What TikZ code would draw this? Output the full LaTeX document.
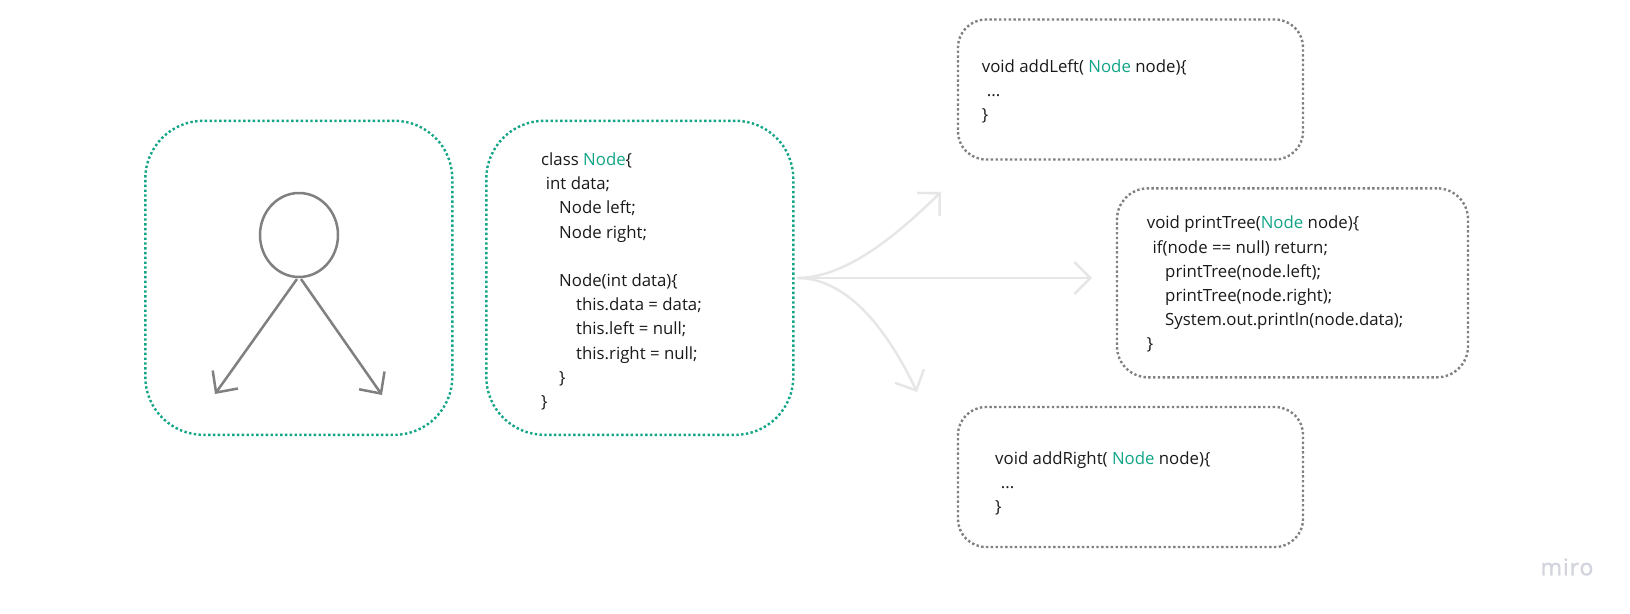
\documentclass[tikz,border=0pt]{standalone}
\usepackage{fontspec}
\usetikzlibrary{arrows.meta,shapes.geometric}
\setmainfont{Open Sans}
\newfontfamily\mirofont[LetterSpace=4,FakeBold=1.2]{Open Sans}
\definecolor{teal1}{HTML}{12A587}
\definecolor{greyline}{HTML}{808080}
\definecolor{lightline}{HTML}{E6E6E6}
\definecolor{mirogrey}{HTML}{D2D4DE}
\definecolor{codeink}{HTML}{1A1A1A}
\newcommand{\nd}{\textcolor{teal1}{Node}}
\newcommand{\ind}[1]{\hspace*{#1pt}}
\tikzset{
  x=1pt,y=-1pt,
  boxgreen/.style={draw=teal1,line width=2.4pt,dash pattern=on 2.4pt off 2.4pt,rounded corners=58pt,inner sep=0pt},
  boxgrey/.style={draw=greyline,line width=2.4pt,dash pattern=on 2.4pt off 2.4pt,rounded corners=28pt,inner sep=0pt},
  code/.style={anchor=north west,inner sep=0pt,align=left,font=\fontsize{16.8}{24.2}\selectfont,text=codeink},
  treeline/.style={draw=greyline,line width=2.5pt,-{Straight Barb[length=16pt,width=31pt,line width=2.5pt]}},
  lightarrow/.style={draw=lightline,line width=2.4pt,-{Straight Barb[length=16pt,width=32pt,line width=2.4pt]}},
}
\begin{document}
\begin{tikzpicture}
\useasboundingbox (0,0) rectangle (1630,613);
\fill[white] (0,0) rectangle (1630,613);
\node[boxgreen,minimum width=307pt,minimum height=314pt] (treebox) at (298.8,277.8) {};
\node[boxgreen,minimum width=307pt,minimum height=314pt] (classbox) at (639.8,277.8) {};
\node[boxgrey,minimum width=345pt,minimum height=140pt] (leftbox) at (1130.5,89.5) {};
\node[boxgrey,rounded corners=31pt,minimum width=351pt,minimum height=189pt] (printbox) at (1292.5,282.8) {};
\node[boxgrey,minimum width=345pt,minimum height=140pt] (rightbox) at (1130.5,477) {};

\node[draw=greyline,line width=2.5pt,ellipse,inner sep=0pt,minimum width=78pt,minimum height=84pt] (head) at (299,235) {};
\coordinate (lefttip) at (215,394);
\coordinate (righttip) at (382,395);
\draw[treeline] (297,279) -- (lefttip);
\draw[treeline] (301,279) -- (righttip);

\coordinate (upTip) at (941,192);
\coordinate (midTip) at (1092,278);
\coordinate (downTip) at (917,392);
\coordinate (fork) at (797,278);
\draw[lightarrow] (fork) .. controls (845,278) and (895,237) .. (upTip);
\draw[lightarrow] (fork) -- (midTip);
\draw[lightarrow] (fork) .. controls (850,278) and (890,335) .. (downTip);

\node[code] (classcode) at (541,152.5) {class \nd\{\\
\ind{4.7}int data;\\
\ind{18}Node left;\\
\ind{18}Node right;\\
\mbox{}\\
\ind{18}Node(int data)\{\\
\ind{35}this.data = data;\\
\ind{35}this.left = null;\\
\ind{35}this.right = null;\\
\ind{18}\}\\
\}};
\node[code] (leftcode) at (981.7,59) {void addLeft( \nd{} node)\{\\
\ind{5}...\\
\}};
\node[code] (printcode) at (1146.7,216) {void printTree(\nd{} node)\{\\
\ind{5.7}if(node == null) return;\\
\ind{18.3}printTree(node.left);\\
\ind{18.3}printTree(node.right);\\
\ind{18.3}System.out.println(node.data);\\
\}};
\node[code] (rightcode) at (995,451.5) {void addRight( \nd{} node)\{\\
\ind{5.7}...\\
\}};
\node[anchor=center,inner sep=0pt,text=mirogrey,font=\fontsize{23}{23}\selectfont\mirofont] (miro) at (1567,567) {miro};
\end{tikzpicture}
\end{document}
